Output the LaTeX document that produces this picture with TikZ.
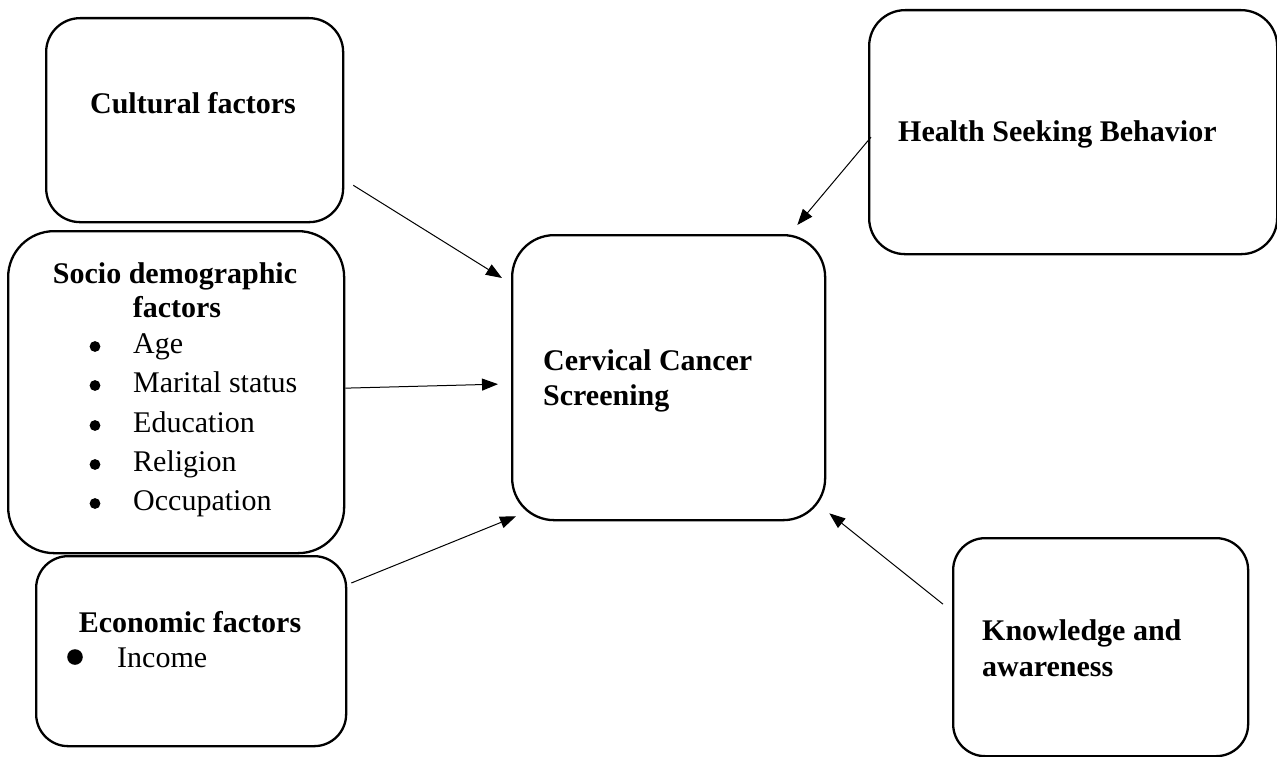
\documentclass[tikz,border=0pt]{standalone}
\usepackage{fontspec}
\setmainfont{Liberation Serif}
\usetikzlibrary{arrows.meta,calc}
\begin{document}
\begin{tikzpicture}[x=1pt,y=-1pt,
  box/.style={draw, line width=2.3pt, rounded corners=#1, inner sep=0pt, anchor=north west},
  box/.default=34pt,
  head/.style={font=\bfseries\fontsize{30}{36}\selectfont, inner sep=0pt},
  item/.style={font=\fontsize{30}{36}\selectfont, inner sep=0pt, anchor=base west},
  conn/.style={line width=1pt, -{Triangle[length=16pt,width=12pt]}}
]
\useasboundingbox (0,0) rectangle (1277,757);

% boxes
\node[box=34pt, minimum width=297pt, minimum height=204pt] (cult) at (45,17) {};
\node[box=46pt, minimum width=336pt, minimum height=322pt] (socio) at (7,230) {};
\node[box=32pt, minimum width=310pt, minimum height=190pt] (econ) at (35,555) {};
\node[box=42pt, minimum width=313pt, minimum height=285pt] (ctr) at (511,234) {};
\node[box=36pt, minimum width=408pt, minimum height=244pt] (health) at (868,9) {};
\node[box=32pt, minimum width=295pt, minimum height=218pt] (know) at (952,537) {};

% texts
\node[head, anchor=base] (cultT) at (193,114) {Cultural factors};
\node[head, anchor=base] (socT1) at (175,283) {Socio demographic};
\node[head, anchor=base] (socT2) at (177,317) {factors};
\foreach \t/\y [count=\i] in {Age/353, Marital status/392, Education/432, Religion/471, Occupation/510}{
  \fill (95,\y-6.5) circle (5.4pt);
  \node[item] (si\i) at (133,\y) {\t};
}
\node[head, anchor=base] (econT) at (190,632) {Economic factors};
\fill (75,657) circle (7.8pt);
\node[item] (econI) at (117,667) {Income};
\node[head, anchor=base west] (ctrT1) at (543,370) {Cervical Cancer};
\node[head, anchor=base west] (ctrT2) at (543,405) {Screening};
\node[head, anchor=base west] (healthT) at (898,142) {Health Seeking Behavior};
\node[head, anchor=base west] (knowT1) at (982,640) {Knowledge and};
\node[head, anchor=base west] (knowT2) at (982,676) {awareness};

% connectors
\draw[conn] ($(cult.south east)+(9,-38)$) -- ($(ctr.north west)+(-9,44)$);
\draw[conn] ($(socio.east)+(0,-4)$) -- ($(ctr.west)+(-13,6.5)$);
\draw[conn] ($(econ.north east)+(4,28)$) -- ($(ctr.south west)+(5,-5)$);
\draw[conn] ($(health.west)+(3,5)$) -- ($(ctr.north east)+(-29,-9)$);
\draw[conn] ($(know.west)+(-9,-43)$) -- ($(ctr.south east)+(3,-8)$);
\end{tikzpicture}
\end{document}
